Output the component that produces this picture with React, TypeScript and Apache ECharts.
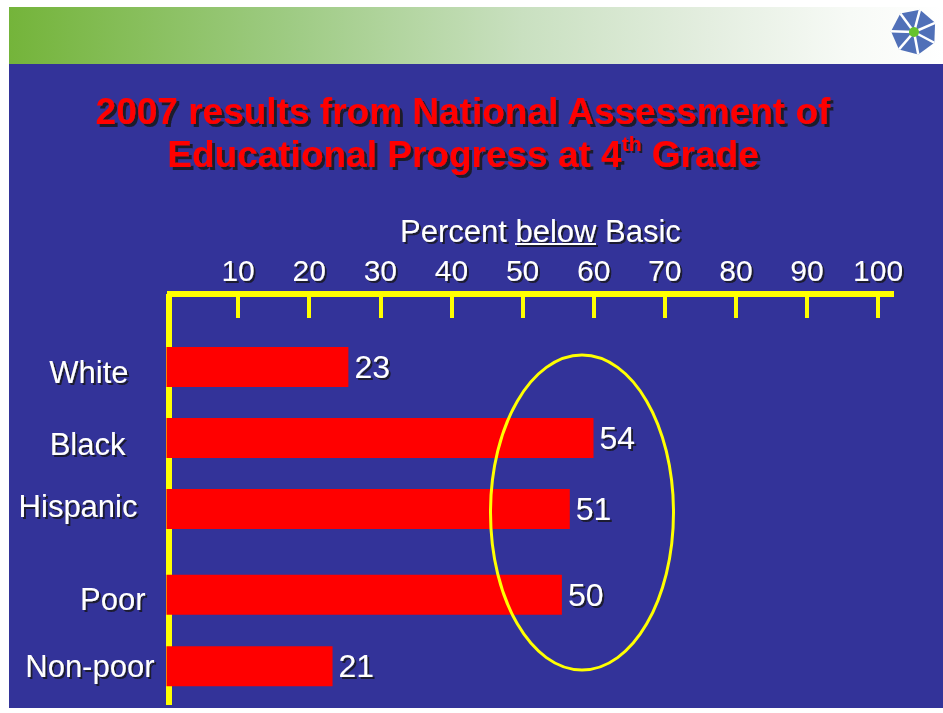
import React, { useEffect, useRef } from 'react';
import * as echarts from 'echarts';

const raceCategories = ['White', 'Black', 'Hispanic'];
const raceValues = [23, 54, 51];
const incomeCategories = ['Poor', 'Non-poor'];
const incomeValues = [50, 21];
const tickLabels = [10, 20, 30, 40, 50, 60, 70, 80, 90, 100];
const titleLine1 = '2007 results from National Assessment of';
const titleLine2Main = 'Educational Progress at 4';
const titleLine2Sup = 'th';
const titleLine2End = ' Grade';
const axisTitleParts = ['Percent ', 'below', ' Basic'];

const FONT = '"Liberation Sans", Arial, Helvetica, sans-serif';
const YELLOW = '#FFFF00';
const BLUE = '#333399';

const labelShadow = {
  textShadowColor: 'rgba(20,20,30,0.85)',
  textShadowOffsetX: 2,
  textShadowOffsetY: 2,
  textShadowBlur: 1,
};

// per-label nudges (style only): [top, right, bottom, left]
const catPadding: Record<string, number[]> = {
  White: [10, 26, 0, 0],
  Black: [12, 29, 0, 0],
  Hispanic: [0, 17, 6, 0],
  Poor: [10, 9, 0, 0],
  'Non-poor': [0, 0, 0, 0],
};
const catKey = (name: string) => 'k' + name.replace(/[^A-Za-z]/g, '');

function buildRich(names: string[]) {
  const rich: Record<string, any> = {};
  names.forEach((n) => {
    rich[catKey(n)] = {
      color: '#ffffff',
      fontSize: 31,
      fontFamily: FONT,
      padding: catPadding[n] || [0, 0, 0, 0],
      ...labelShadow,
    };
  });
  return rich;
}

function logo(cx: number, cy: number, R: number) {
  const n = 7;
  const pts: number[][] = [];
  for (let k = 0; k < n; k++) {
    const a = ((-75 + (k * 360) / n) * Math.PI) / 180;
    pts.push([cx + R * Math.cos(a), cy + R * Math.sin(a)]);
  }
  const children: any[] = [
    { type: 'polygon', shape: { points: pts }, style: { fill: '#5070B8' } },
  ];
  pts.forEach((p) => {
    children.push({
      type: 'line',
      shape: { x1: cx, y1: cy, x2: p[0], y2: p[1] },
      style: { stroke: '#ffffff', lineWidth: 2.5 },
    });
  });
  children.push({ type: 'circle', shape: { cx, cy, r: 5 }, style: { fill: '#66C22E' } });
  return { type: 'group', children, z: 5 };
}

export default function App() {
  const ref = useRef<HTMLDivElement>(null);

  useEffect(() => {
    if (!ref.current) return;
    const chart = echarts.init(ref.current, null, { renderer: 'svg' });

    const axisGridLeft = 167;
    const axisGridRight = 943 - 894;
    const barGridLeft = 166.5;

    const catAxis = (gridIndex: number, data: string[]) => ({
      type: 'category',
      gridIndex,
      data,
      inverse: true,
      axisLine: { show: false },
      axisTick: { show: false },
      axisLabel: {
        show: true,
        align: 'right',
        margin: 12,
        formatter: (v: string) => `{${catKey(v)}|${v}}`,
        rich: buildRich(data),
      },
    });

    const barSeries = (idx: number, data: number[]) => ({
      type: 'bar',
      xAxisIndex: idx,
      yAxisIndex: idx,
      data,
      barWidth: 40,
      itemStyle: { color: '#FF0000' },
      z: 3,
      label: {
        show: true,
        position: 'right',
        distance: 6,
        color: '#ffffff',
        fontSize: 32,
        fontFamily: FONT,
        ...labelShadow,
      },
    });

    const shadowDark = {
      textShadowColor: 'rgba(20,20,20,0.85)',
      textShadowOffsetX: 3,
      textShadowOffsetY: 3,
      textShadowBlur: 1,
    };

    const option: any = {
      animation: false,
      backgroundColor: '#ffffff',
      grid: [
        { left: axisGridLeft, right: axisGridRight, top: 294, height: 411 },
        { left: barGridLeft, right: axisGridRight, top: 331.5, height: 213 },
        { left: barGridLeft, right: axisGridRight, top: 559, height: 143 },
      ],
      xAxis: [
        {
          type: 'value',
          gridIndex: 0,
          position: 'top',
          min: 0,
          max: 102.23,
          interval: 10,
          axisLine: { show: true, onZero: false, lineStyle: { color: YELLOW, width: 6, cap: 'butt' } },
          axisTick: {
            show: true,
            inside: true,
            length: 24,
            customValues: tickLabels,
            lineStyle: { color: YELLOW, width: 4 },
          },
          axisLabel: {
            show: true,
            customValues: tickLabels,
            color: '#ffffff',
            fontSize: 30,
            fontFamily: FONT,
            margin: 9,
            ...labelShadow,
          },
          splitLine: { show: false },
        },
        { type: 'value', gridIndex: 1, min: 0, max: 92, show: false },
        { type: 'value', gridIndex: 2, min: 0, max: 92, show: false },
      ],
      yAxis: [
        {
          type: 'value',
          gridIndex: 0,
          min: 0,
          max: 1,
          offset: -2,
          axisLine: { show: true, onZero: false, lineStyle: { color: YELLOW, width: 6, cap: 'butt' } },
          axisTick: { show: false },
          axisLabel: { show: false },
          splitLine: { show: false },
        },
        catAxis(1, raceCategories),
        catAxis(2, incomeCategories),
      ],
      series: [barSeries(1, raceValues), barSeries(2, incomeValues)],
      graphic: [
        {
          type: 'rect',
          z: -10,
          shape: { x: 9, y: 7, width: 934, height: 57 },
          style: {
            fill: new echarts.graphic.LinearGradient(0, 0, 1, 0, [
              { offset: 0, color: '#74B43A' },
              { offset: 0.3, color: '#9ECB83' },
              { offset: 0.55, color: '#C9E0C0' },
              { offset: 0.75, color: '#E4EEE0' },
              { offset: 0.9, color: '#F7FAF6' },
              { offset: 1, color: '#FFFFFF' },
            ]),
          },
        },
        {
          type: 'rect',
          z: -10,
          shape: { x: 9, y: 64, width: 934, height: 644 },
          style: { fill: BLUE },
        },
        logo(914, 32, 23),
        {
          type: 'text',
          z: 5,
          x: 463,
          y: 111,
          style: {
            text: titleLine1,
            fill: '#FF0000',
            fontSize: 37,
            fontWeight: 'bold',
            fontFamily: FONT,
            align: 'center',
            verticalAlign: 'middle',
            ...shadowDark,
          },
        },
        {
          type: 'text',
          z: 5,
          x: 463,
          y: 154,
          style: {
            text: `{m|${titleLine2Main}}{s|${titleLine2Sup}}{m|${titleLine2End}}`,
            align: 'center',
            verticalAlign: 'middle',
            rich: {
              m: {
                fill: '#FF0000',
                fontSize: 37,
                fontWeight: 'bold',
                fontFamily: FONT,
                lineHeight: 42,
                ...shadowDark,
              },
              s: {
                fill: '#FF0000',
                fontSize: 21,
                fontWeight: 'bold',
                fontFamily: FONT,
                lineHeight: 22,
                verticalAlign: 'top',
                ...shadowDark,
                textShadowOffsetX: 2,
                textShadowOffsetY: 2,
              },
            },
          },
        },
        {
          type: 'text',
          z: 5,
          x: 400,
          y: 231,
          style: {
            text: axisTitleParts.join(''),
            fill: '#ffffff',
            fontSize: 31,
            fontFamily: FONT,
            align: 'left',
            verticalAlign: 'middle',
            ...labelShadow,
          },
        },
        {
          type: 'rect',
          z: 4,
          shape: { x: 517, y: 245, width: 81, height: 2 },
          style: { fill: 'rgba(20,20,30,0.85)' },
        },
        {
          type: 'rect',
          z: 5,
          shape: { x: 515, y: 243, width: 81, height: 2 },
          style: { fill: '#ffffff' },
        },
        {
          type: 'ellipse',
          z: 10,
          shape: { cx: 582, cy: 512.5, rx: 91.5, ry: 157.5 },
          style: { fill: 'none', stroke: YELLOW, lineWidth: 3 },
        },
      ],
    };

    chart.setOption(option);
    return () => chart.dispose();
  }, []);

  return (
    <div
      ref={ref}
      style={{ position: 'absolute', left: 0, top: 0, width: 943, height: 713 }}
    />
  );
}
